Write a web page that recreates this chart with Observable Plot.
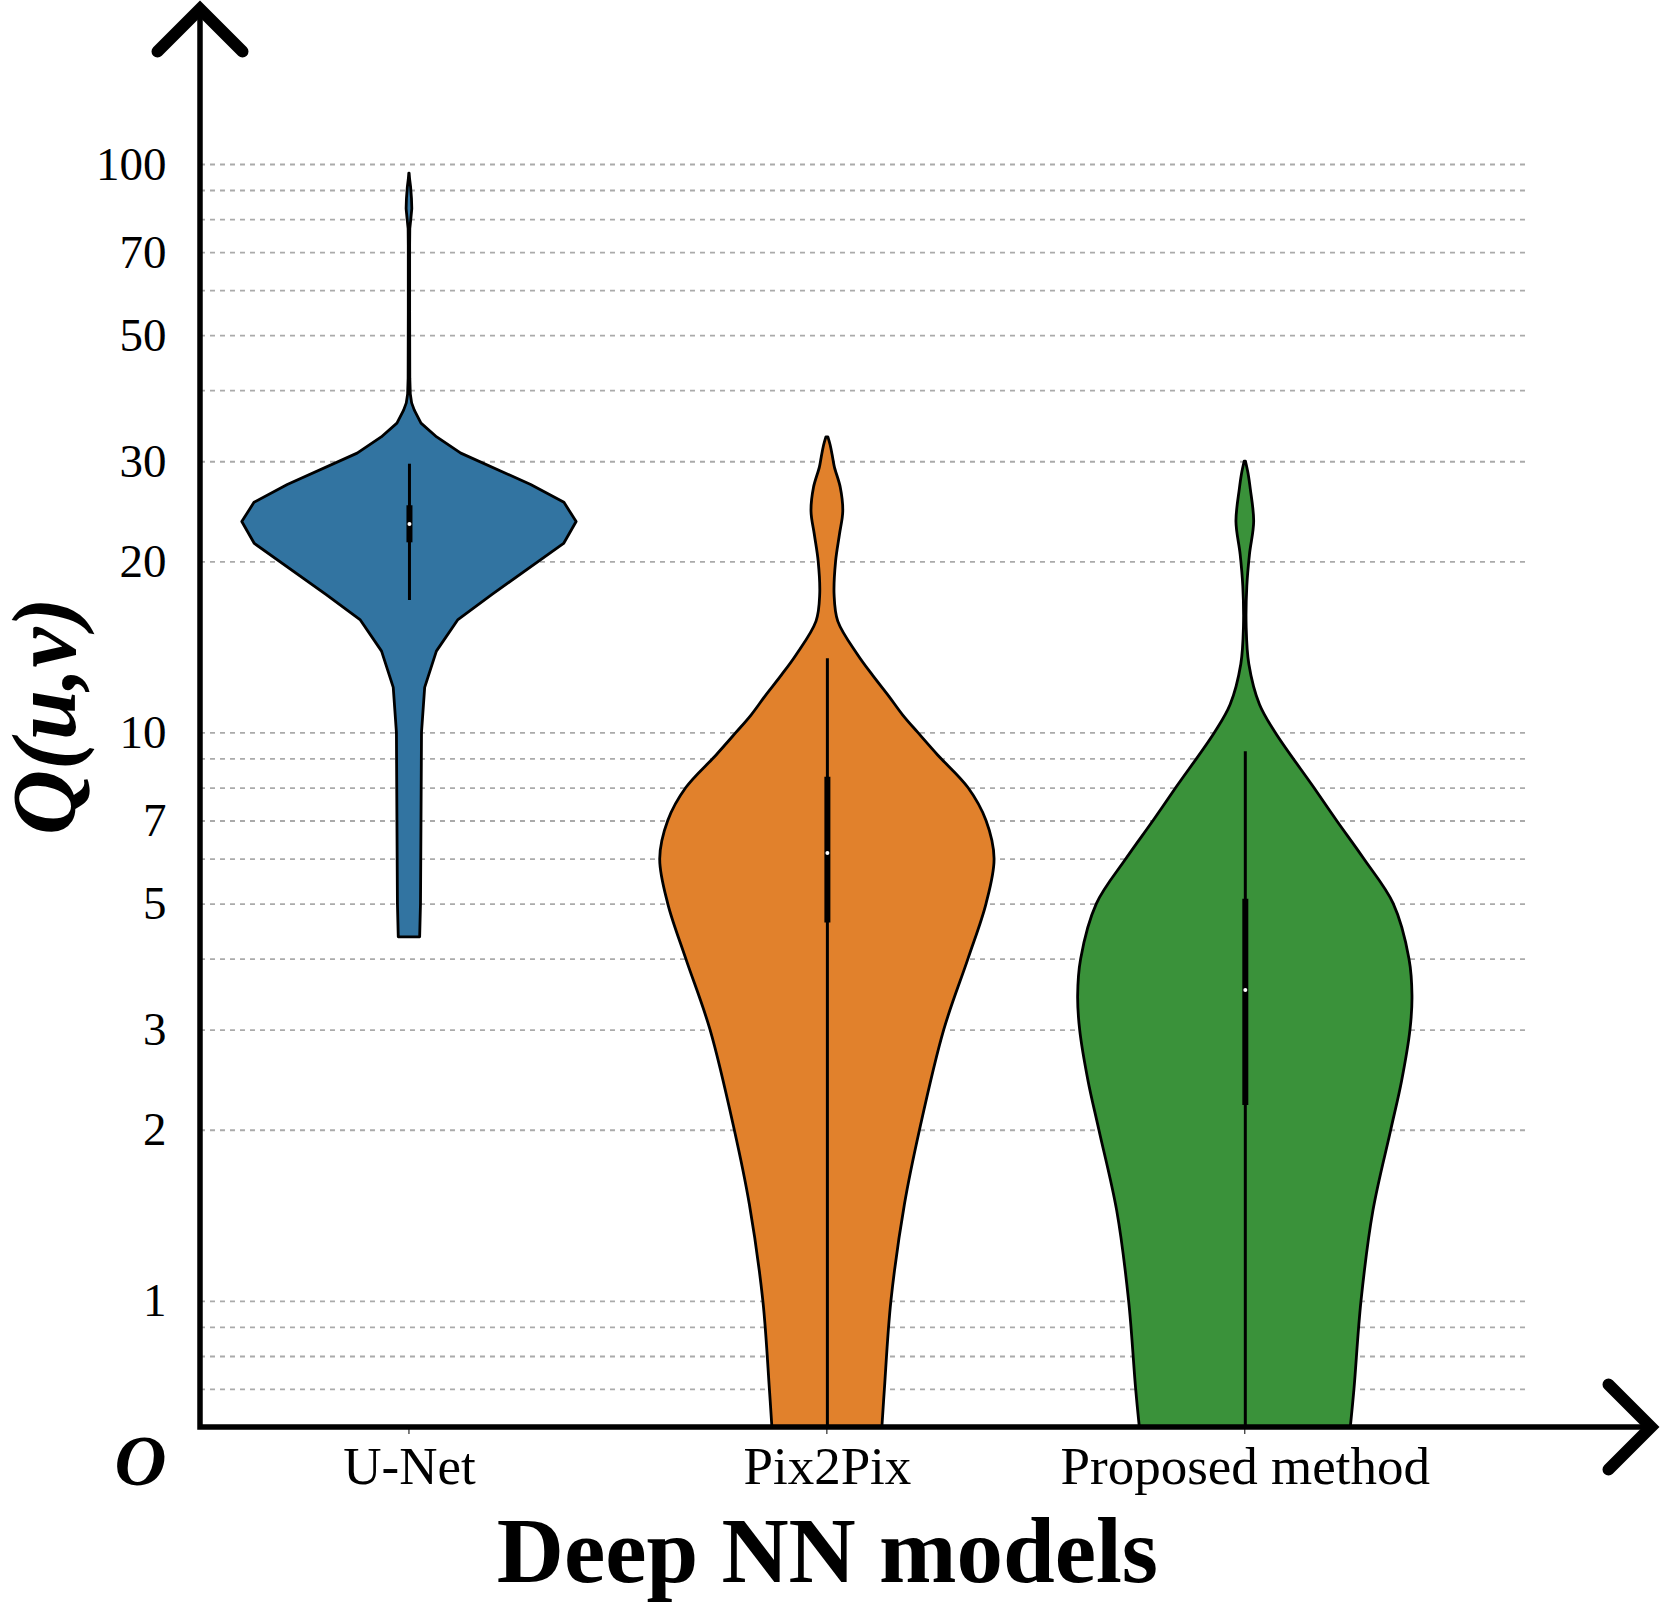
<!DOCTYPE html>
<html><head><meta charset="utf-8">
<script src="https://cdn.jsdelivr.net/npm/d3@7"></script>
<script src="https://cdn.jsdelivr.net/npm/@observablehq/plot@0.6"></script>
<style>html,body{margin:0;padding:0;background:#fff;} svg{display:block}</style>
</head><body><div id="chart"></div>
<script>
// ---- data ----
const models = ["U-Net", "Pix2Pix", "Proposed method"];
const colors = ["#3274a1", "#e1812c", "#3a923a"];
const yTickValues = [100, 70, 50, 30, 20, 10, 7, 5, 3, 2, 1];
const gridValues = [100, 90, 80, 70, 60, 50, 40, 30, 20, 10, 9, 8, 7, 6, 5, 4, 3, 2, 1, 0.9, 0.8, 0.7];

// violin profiles: value and relative density (1 = widest)
const unetValues  = [96.4, 94, 91, 87, 83.5, 80, 77, 72, 55, 42, 39.4, 38, 36.9, 35.0, 33.1, 31.0, 27.3, 25.4, 23.5, 21.5, 17.5, 15.8, 13.9, 12.0, 10.0, 7.0, 5.0, 4.37];
const unetDensity = [0.001, 0.004, 0.010, 0.015, 0.017, 0.011, 0.005, 0.004, 0.004, 0.005, 0.008, 0.016, 0.032, 0.072, 0.166, 0.31, 0.728, 0.927, 1.0, 0.925, 0.497, 0.293, 0.164, 0.094, 0.075, 0.072, 0.069, 0.064];

const pixValues  = [33.1, 32, 30.5, 29.3, 27.0, 24.5, 22.3, 20.0, 17.5, 15.7, 13.7, 12.6, 11.6, 10.73, 10.0, 9.12, 8.0, 7.0, 6.0, 5.0, 4.0, 3.0, 2.0, 1.48, 1.0, 0.7, 0.6];
const pixDensity = [0.006, 0.020, 0.034, 0.045, 0.080, 0.095, 0.075, 0.052, 0.043, 0.065, 0.184, 0.274, 0.369, 0.454, 0.544, 0.664, 0.844, 0.952, 1.0, 0.952, 0.844, 0.699, 0.554, 0.464, 0.383, 0.344, 0.329];

const propValues  = [30.0, 28.5, 26.8, 23.5, 20.6, 18.1, 15.4, 13.2, 11.2, 10.0, 8.0, 7.0, 6.0, 5.0, 4.0, 3.44, 3.0, 2.44, 2.0, 1.44, 1.0, 0.7, 0.6];
const propDensity = [0.004, 0.020, 0.033, 0.053, 0.028, 0.012, 0.008, 0.024, 0.088, 0.182, 0.413, 0.549, 0.711, 0.888, 0.982, 1.0, 0.988, 0.938, 0.873, 0.766, 0.695, 0.653, 0.631];

// inner box stats
const whiskerLow  = [17.1, 0.6, 0.6];
const whiskerHigh = [29.7, 13.5, 9.27];
const quart1      = [21.6, 4.63, 2.21];
const quart3      = [25.1, 8.36, 5.1];
const medians     = [23.3, 6.15, 3.53];

// ---- layout ----
const xMin = -0.5, xMax = 2.68, yMin = 0.6, yMax = 100;
const halfWidth = 0.4;
const serif = "Liberation Serif, Times New Roman, serif";

const profiles = [[unetValues, unetDensity], [pixValues, pixDensity], [propValues, propDensity]];
const curves = ["linear", "catmull-rom", "catmull-rom"];
const violinMarks = profiles.map(([vals, dens], i) => {
  const rows = vals.map((v, k) => ({i, value: v, density: dens[k]}));
  return Plot.areaX(rows, {
    y: "value",
    x1: d => d.i - d.density * halfWidth,
    x2: d => d.i + d.density * halfWidth,
    fill: colors[i], stroke: "black", strokeWidth: 2.8, curve: curves[i]
  });
});
const stats = models.map((m, i) => ({i, lo: whiskerLow[i], hi: whiskerHigh[i], q1: quart1[i], q3: quart3[i], med: medians[i]}));

// axis lines with open arrowheads, plus small category ticks
function axisArrows(index, scales, values, dimensions) {
  const {width, height, marginLeft, marginBottom} = dimensions;
  const ox = marginLeft, oy = height - marginBottom;
  const tipY = 9, tipX = width - 10, arm = 42.5;
  const g = d3.create("svg:g").attr("fill", "none").attr("stroke", "black");
  models.forEach((m, i) => {
    const px = scales.x(i);
    g.append("line").attr("x1", px).attr("x2", px).attr("y1", oy).attr("y2", oy + 7).attr("stroke-width", 1);
  });
  g.append("path")
    .attr("d", `M${ox},${tipY}L${ox},${oy}L${tipX},${oy}`)
    .attr("stroke-width", 5.5).attr("stroke-linejoin", "miter");
  g.append("path")
    .attr("d", `M${ox - arm},${tipY + arm}L${ox},${tipY}L${ox + arm},${tipY + arm}`)
    .attr("stroke-width", 12).attr("stroke-linecap", "round").attr("stroke-linejoin", "miter");
  g.append("path")
    .attr("d", `M${tipX - arm},${oy - arm}L${tipX},${oy}L${tipX - arm},${oy + arm}`)
    .attr("stroke-width", 12).attr("stroke-linecap", "round").attr("stroke-linejoin", "miter");
  return g.node();
}

const chart = Plot.plot({
  width: 1661,
  height: 1602,
  marginLeft: 200,
  marginRight: 132,
  marginTop: 164,
  marginBottom: 175,
  style: {background: "#fff", color: "black", fontFamily: serif, overflow: "visible"},
  x: {type: "linear", domain: [xMin, xMax], axis: null},
  y: {type: "log", domain: [yMin, yMax], axis: null},
  marks: [
    Plot.ruleY(gridValues, {y: d => d, x1: xMin, x2: xMax, stroke: "#aaaaaa", strokeWidth: 1.8, strokeDasharray: "5,5"}),
    ...violinMarks,
    Plot.ruleX(stats, {x: "i", y1: "lo", y2: "hi", stroke: "black", strokeWidth: 3}),
    Plot.ruleX(stats, {x: "i", y1: "q1", y2: "q3", stroke: "black", strokeWidth: 6}),
    Plot.dot(stats, {x: "i", y: "med", r: 2, fill: "white", stroke: null}),
    axisArrows,
    Plot.text(yTickValues, {x: xMin, y: d => d, text: d => String(d), textAnchor: "end", dx: -34, fontSize: 47, fontFamily: serif}),
    Plot.text(models, {x: (d, i) => i, y: yMin, text: d => d, dy: 40, fontSize: 53, fontFamily: serif}),
    Plot.text(["O"], {x: xMin, y: yMin, text: d => d, textAnchor: "end", dx: -34, dy: 34, fontSize: 72, fontWeight: "bold", fontStyle: "italic", fontFamily: serif}),
    Plot.text(["Deep NN models"], {x: 1, y: yMin, text: d => d, dy: 125, fontSize: 93, fontWeight: "bold", fontFamily: serif}),
    Plot.text(["Q(u,v)"], {x: xMin, y: 10.7, text: d => d, dx: -154, rotate: -90, fontSize: 90, fontWeight: "bold", fontStyle: "italic", fontFamily: serif})
  ]
});
document.getElementById("chart").appendChild(chart);
</script>
</body></html>
